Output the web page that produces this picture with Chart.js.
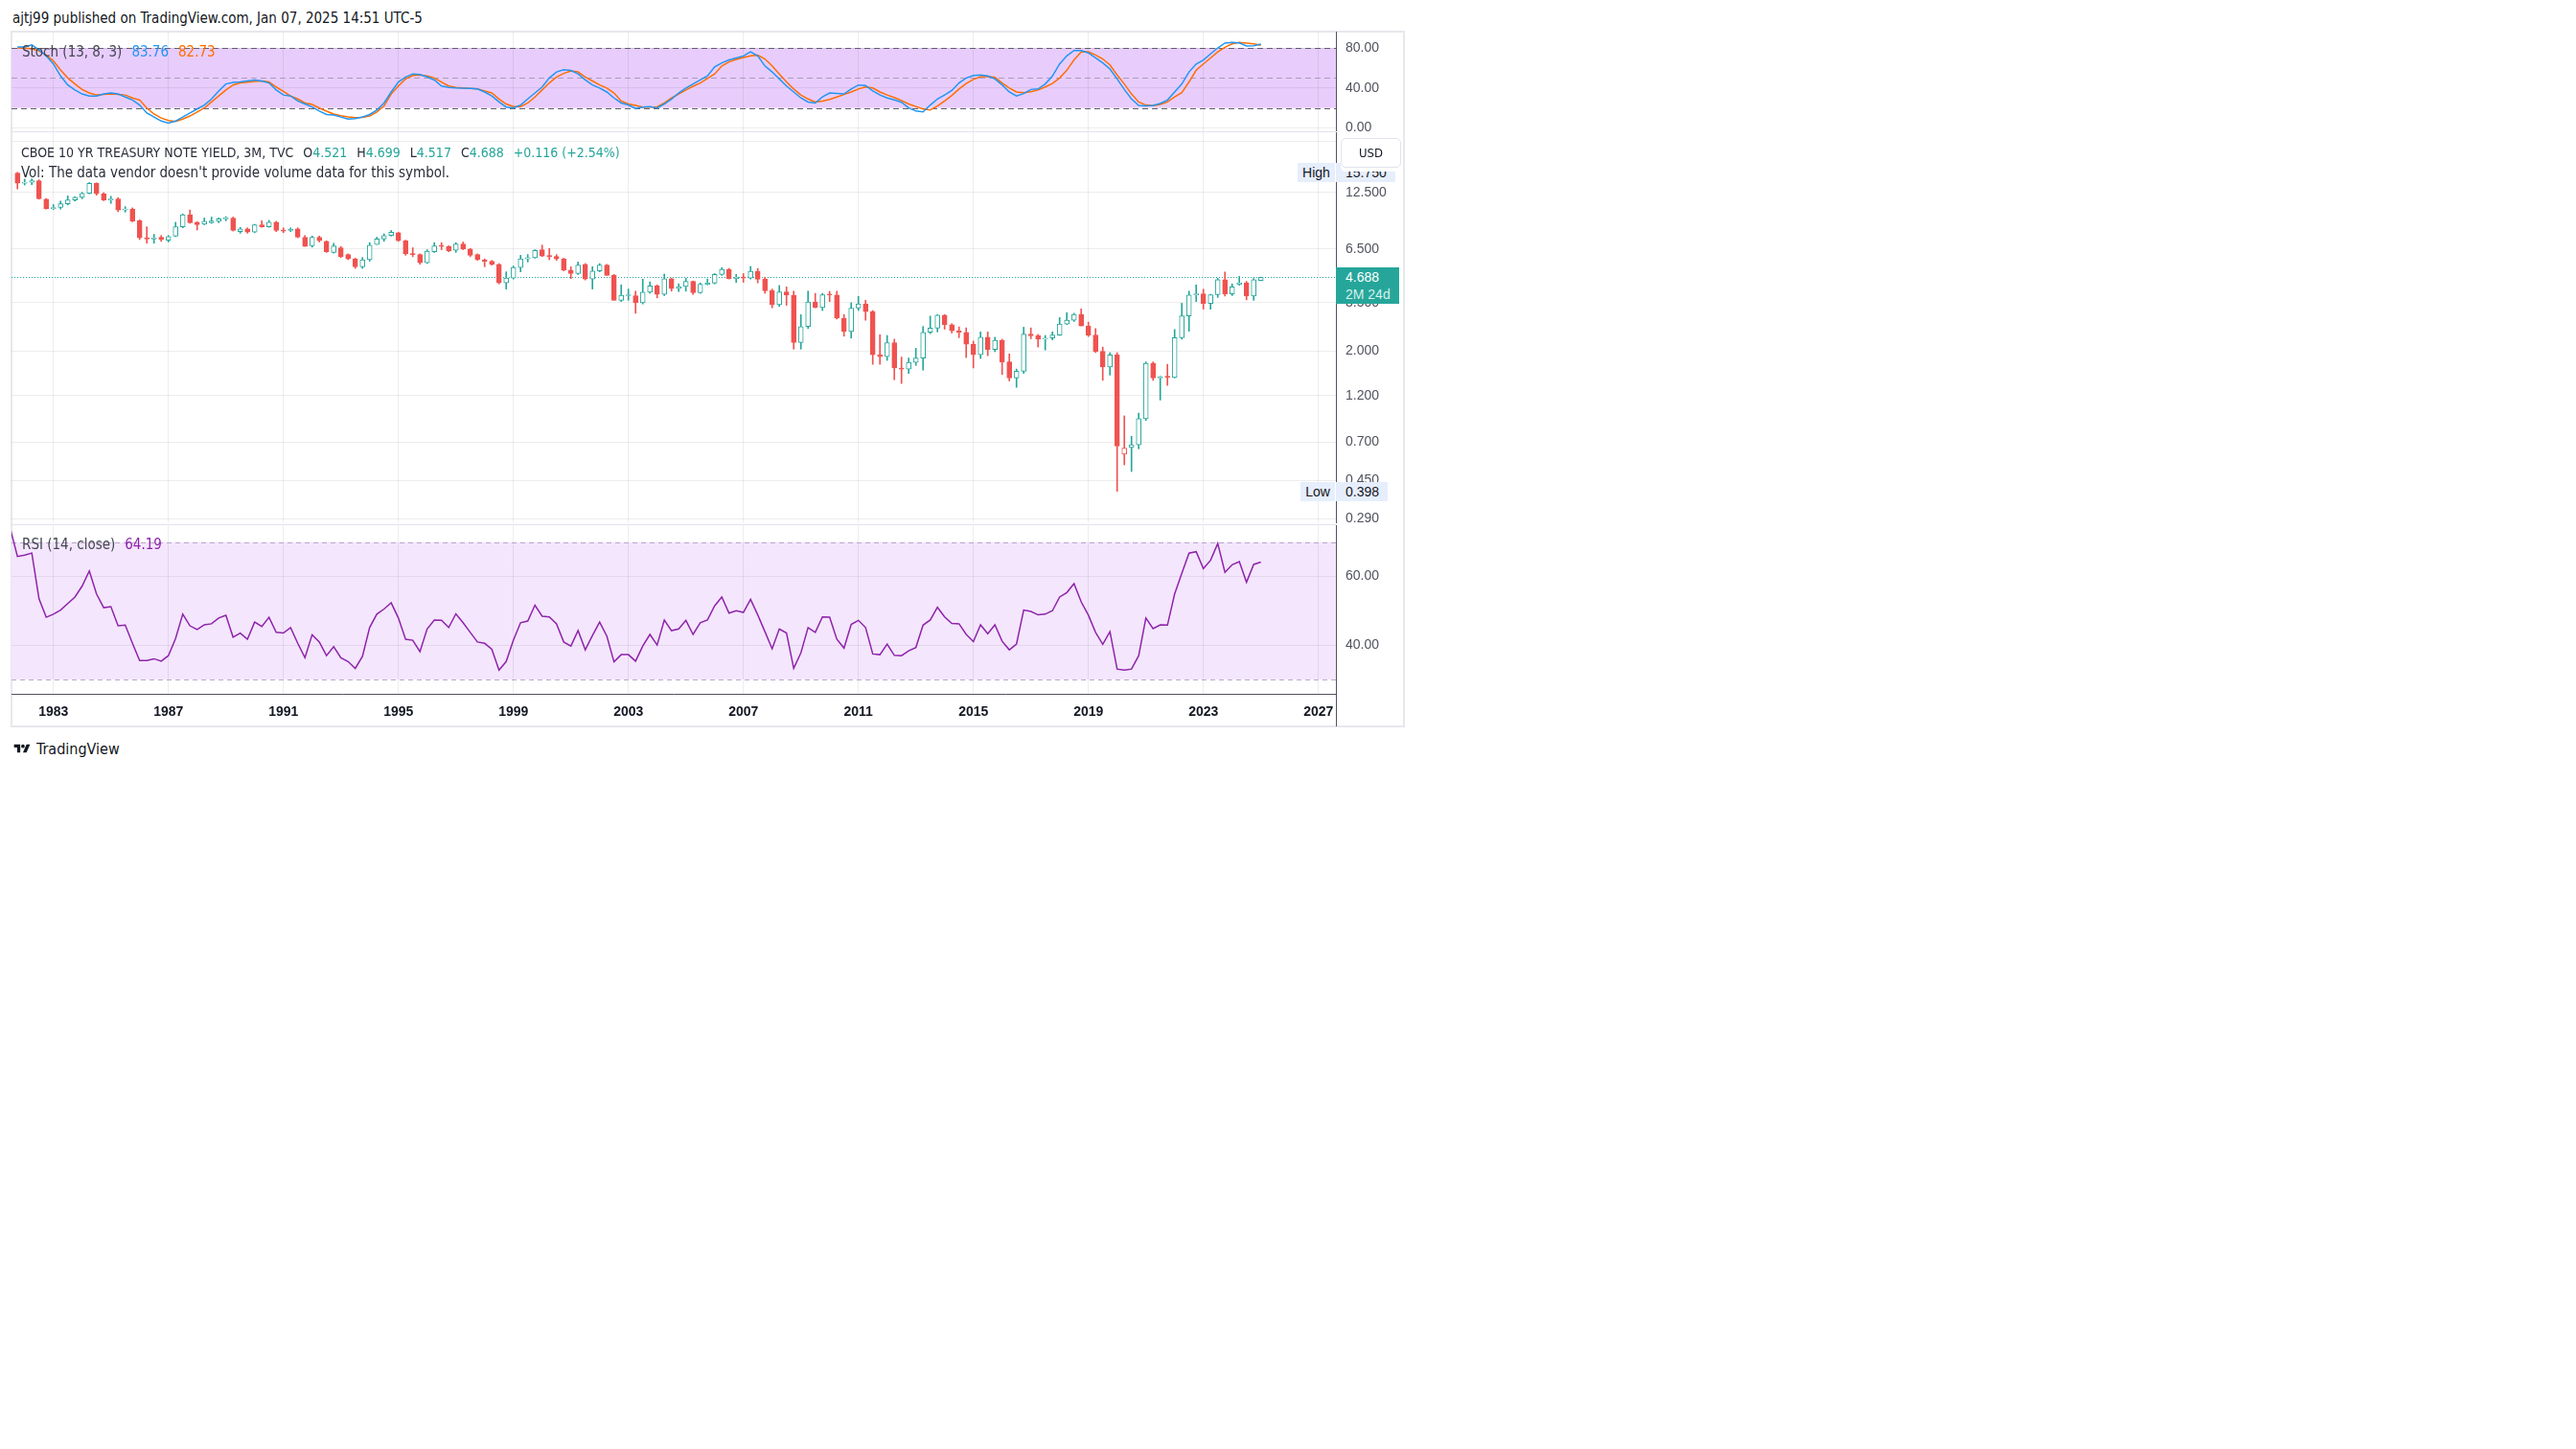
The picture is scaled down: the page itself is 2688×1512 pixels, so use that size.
<!DOCTYPE html>
<html>
<head>
<meta charset="utf-8">
<title>CBOE 10 YR Treasury Note Yield, 3M</title>
<script src="https://cdn.jsdelivr.net/npm/chart.js@4.4.1/dist/chart.umd.min.js"></script>
<style>
body { margin:0; width:2688px; height:1512px; background:#fff; position:relative; overflow:hidden;
       font-family:"DejaVu Sans Condensed", "Liberation Sans", Arial, sans-serif; font-size:15px; color:#131722; }
.abs { position:absolute; white-space:nowrap; line-height:16px; }
canvas { position:absolute; }
#frame { position:absolute; left:11px; top:32px; width:1455px; height:727px; border:2px solid #e6e8ec; box-sizing:border-box; }
.sep { position:absolute; left:12px; width:1382px; height:1px; background:#e0e3eb; }
.tag { position:absolute; height:20px; line-height:20px; background:#e6eefc; color:#131722; font-size:14px;
       font-family:"Liberation Sans", Arial, sans-serif; }
.gap { margin-left:10px; }
</style>
</head>
<body>
<div id="frame"></div>
<div class="abs" style="left:13px;top:11px;">ajtj99 published on TradingView.com, Jan 07, 2025 14:51 UTC-5</div>

<canvas id="stochCanvas" width="1453" height="104" style="left:12px;top:33px;"></canvas>
<canvas id="mainCanvas" width="1453" height="414" style="left:12px;top:138px;"></canvas>
<canvas id="rsiCanvas" width="1453" height="210" style="left:12px;top:548px;"></canvas>
<div class="sep" style="top:137px;"></div>
<div class="sep" style="top:547px;"></div>
<div style="position:absolute;left:1394px;top:724px;width:1px;height:34px;background:#50535e;"></div>

<div class="abs" id="stochLegend" style="left:23px;top:46px;color:#434651;"></div>
<div class="abs" id="mainLegend" style="left:22px;top:151px;color:#2a2e39;font-size:14px;"></div>
<div class="abs" style="left:22px;top:172px;color:#2a2e39;">Vol: The data vendor doesn't provide volume data for this symbol.</div>
<div class="abs" id="rsiLegend" style="left:23px;top:560px;color:#434651;"></div>

<div class="tag" id="highTag" style="left:1354px;width:39px;text-align:center;">High</div>
<div class="tag" id="highVal" style="left:1394px;width:62px;padding-left:10px;box-sizing:border-box;"></div>
<div class="tag" id="lowTag" style="left:1357px;width:36px;text-align:center;">Low</div>
<div class="tag" id="lowVal" style="left:1394px;width:54px;padding-left:10px;box-sizing:border-box;"></div>
<div id="lastBox" style="position:absolute;left:1394px;width:66px;height:38px;background:#26a69a;color:#fff;padding-left:10px;box-sizing:border-box;font-size:14px;line-height:18px;padding-top:1px;font-family:'Liberation Sans', Arial, sans-serif;"></div>
<div style="position:absolute;left:1399px;top:144px;width:63px;height:31px;background:#fff;border:1px solid #e0e3eb;border-radius:5px;box-sizing:border-box;text-align:center;line-height:29px;font-size:13px;color:#131722;box-shadow:0 4px 0 #fff;">USD</div>

<div class="abs" style="left:12px;top:774px;font-size:16px;">
  <svg width="22" height="13" viewBox="0 0 36 28" style="vertical-align:-1px;margin-right:4px"><path d="M14 22H7V11H0V4h14v18z" fill="#131722"/><circle cx="20" cy="8" r="4" fill="#131722"/><path d="M28 4h8l-8 18h-8l8-18z" fill="#131722"/></svg>TradingView
</div>

<script>
// one candle per quarter, first one is Q4 1981
var firstQuarter = 1981.75;

var opens = [
  15.6,
  13.9, 14.05, 14.3, 11.55,
  10.35, 10.5, 10.95, 11.45,
  11.8, 12.35, 13.85, 12.3,
  11.45, 11.6, 10.2, 10.3,
  9.0, 7.4, 7.3, 7.45,
  7.2, 7.55, 8.4, 9.65,
  8.85, 8.65, 8.8, 8.95,
  9.2, 9.3, 7.95, 8.2,
  7.9, 8.6, 8.4, 8.85,
  8.1, 8.05, 8.2, 7.45,
  6.75, 7.45, 7.1, 6.25,
  6.6, 6.1, 5.8, 5.3,
  5.75, 6.85, 7.3, 7.6,
  7.85, 7.15, 6.15, 6.1,
  5.55, 6.3, 6.75, 6.7,
  6.4, 6.9, 6.5, 6.1,
  5.75, 5.65, 5.45, 4.4,
  4.65, 5.25, 5.8, 5.88,
  6.45, 6.0, 5.97, 5.8,
  5.1, 4.9, 5.45, 4.6,
  5.05, 5.4, 4.8, 3.6,
  3.8, 3.8, 3.5, 3.95,
  4.25, 3.85, 4.62, 4.12,
  4.22, 4.48, 3.93, 4.33,
  4.39, 4.85, 5.14, 4.63,
  4.7, 4.65, 5.03, 4.59,
  4.02, 3.42, 3.97, 3.82,
  2.21, 2.66, 3.53, 3.31,
  3.84, 3.83, 2.93, 2.51,
  3.29, 3.45, 3.16, 1.92,
  1.88, 2.21, 1.65, 1.63,
  1.76, 1.85, 2.49, 2.61,
  3.03, 2.72, 2.53, 2.49,
  2.17, 1.92, 2.35, 2.04,
  2.27, 1.77, 1.47, 1.59,
  2.44, 2.39, 2.30, 2.33,
  2.41, 2.74, 2.86, 3.06,
  2.68, 2.41, 2.00, 1.67,
  1.92, 0.61, 0.66, 0.68,
  0.92, 1.74, 1.47, 1.5,
  1.48, 2.34, 3.01, 3.83,
  3.88, 3.47, 3.84, 4.57,
  3.88, 4.33, 4.40, 3.78,
  4.521
];
var highs = [
  15.75,
  14.55, 14.6, 14.45, 11.65,
  10.85, 11.3, 12.0, 11.9,
  12.5, 14.0, 13.95, 12.45,
  11.95, 11.75, 10.6, 10.45,
  9.1, 8.4, 7.7, 7.6,
  7.6, 8.85, 9.75, 10.2,
  8.9, 9.3, 9.4, 9.3,
  9.45, 9.4, 8.35, 8.3,
  8.65, 9.0, 9.05, 8.95,
  8.3, 8.3, 8.3, 7.6,
  7.55, 7.55, 7.15, 6.95,
  6.7, 6.15, 5.85, 5.9,
  7.0, 7.45, 7.75, 8.05,
  7.9, 7.2, 6.6, 6.15,
  6.45, 7.0, 7.0, 6.75,
  7.0, 7.05, 6.55, 6.15,
  5.8, 5.7, 5.5, 5.0,
  5.35, 6.05, 6.1, 6.45,
  6.8, 6.55, 6.1, 5.85,
  5.3, 5.6, 5.5, 5.3,
  5.5, 5.45, 4.85, 4.3,
  4.1, 4.0, 4.6, 4.45,
  4.3, 4.87, 4.65, 4.35,
  4.64, 4.5, 4.4, 4.6,
  4.9, 5.25, 5.2, 4.85,
  4.9, 5.32, 5.2, 4.7,
  4.1, 4.27, 4.2, 4.0,
  3.05, 4.0, 3.9, 3.9,
  3.99, 4.0, 3.05, 3.5,
  3.77, 3.6, 3.2, 2.42,
  2.4, 2.3, 1.87, 1.85,
  2.07, 2.66, 3.0, 3.05,
  3.05, 2.75, 2.65, 2.62,
  2.25, 2.5, 2.5, 2.35,
  2.3, 1.94, 1.63, 2.64,
  2.62, 2.43, 2.4, 2.5,
  2.95, 3.12, 3.1, 3.26,
  2.8, 2.6, 2.1, 1.97,
  1.97, 0.95, 0.75, 0.98,
  1.77, 1.77, 1.5, 1.72,
  2.57, 3.48, 4.0, 4.3,
  4.09, 3.86, 4.64, 4.99,
  4.35, 4.74, 4.48, 4.63,
  4.699
];
var lows = [
  13.0,
  13.6, 13.65, 11.55, 10.3,
  10.25, 10.3, 10.8, 11.3,
  11.6, 12.3, 12.1, 11.35,
  11.0, 10.0, 9.95, 8.9,
  7.25, 6.95, 6.95, 7.1,
  7.05, 7.5, 8.3, 8.75,
  8.1, 8.6, 8.75, 8.8,
  9.0, 8.0, 7.8, 7.8,
  7.85, 8.35, 8.35, 7.95,
  7.85, 7.95, 7.4, 6.7,
  6.65, 7.05, 6.25, 6.2,
  5.9, 5.75, 5.2, 5.2,
  5.65, 6.85, 7.1, 7.55,
  7.1, 6.05, 5.95, 5.45,
  5.5, 6.25, 6.45, 6.3,
  6.25, 6.45, 5.95, 5.7,
  5.3, 5.4, 4.35, 4.1,
  4.6, 5.0, 5.6, 5.85,
  5.95, 5.75, 5.7, 5.05,
  4.62, 4.85, 4.55, 4.1,
  5.0, 4.8, 3.6, 3.55,
  3.6, 3.1, 3.45, 3.9,
  3.7, 3.8, 4.0, 3.98,
  4.0, 3.85, 3.9, 4.3,
  4.35, 4.8, 4.6, 4.42,
  4.43, 4.6, 4.4, 3.9,
  3.3, 3.35, 3.4, 2.05,
  2.05, 2.6, 3.3, 3.2,
  3.55, 2.9, 2.38, 2.33,
  3.2, 2.86, 1.72, 1.72,
  1.8, 1.44, 1.38, 1.55,
  1.7, 1.61, 2.45, 2.5,
  2.58, 2.47, 2.34, 1.86,
  1.65, 1.84, 1.9, 1.99,
  1.53, 1.42, 1.32, 1.55,
  2.31, 2.1, 2.03, 2.28,
  2.4, 2.72, 2.82, 2.68,
  2.37, 1.97, 1.43, 1.52,
  0.398, 0.54, 0.50, 0.65,
  0.9, 1.43, 1.14, 1.35,
  1.47, 2.3, 2.52, 3.55,
  3.25, 3.25, 3.72, 3.78,
  3.8, 4.28, 3.62, 3.6,
  4.517
];
var closes = [
  13.9,
  14.05, 14.3, 11.6, 10.35,
  10.5, 10.95, 11.45, 11.8,
  12.35, 13.85, 12.3, 11.45,
  11.55, 10.2, 10.3, 8.95,
  7.4, 7.3, 7.4, 7.25,
  7.5, 8.4, 9.65, 8.8,
  8.6, 8.95, 8.98, 9.2,
  9.27, 8.05, 8.2, 7.9,
  8.6, 8.4, 8.85, 8.05,
  8.0, 8.15, 7.45, 6.7,
  7.45, 7.15, 6.3, 6.75,
  5.95, 5.8, 5.3, 5.75,
  6.8, 7.3, 7.6, 7.9,
  7.15, 6.15, 6.1, 5.55,
  6.35, 6.75, 6.7, 6.35,
  6.9, 6.5, 6.05, 5.75,
  5.65, 5.45, 4.4, 4.65,
  5.25, 5.8, 5.88, 6.4,
  6.0, 5.97, 5.8, 5.1,
  4.9, 5.4, 4.6, 5.05,
  5.4, 4.8, 3.6, 3.82,
  3.83, 3.5, 3.95, 4.25,
  3.85, 4.62, 4.12, 4.22,
  4.48, 3.93, 4.33, 4.39,
  4.85, 5.14, 4.63, 4.7,
  4.65, 5.03, 4.59, 4.02,
  3.42, 3.97, 3.82, 2.21,
  2.66, 3.53, 3.31, 3.84,
  3.83, 2.93, 2.51, 3.29,
  3.45, 3.16, 1.92, 1.88,
  2.21, 1.65, 1.63, 1.76,
  1.85, 2.49, 2.61, 3.03,
  2.72, 2.53, 2.49, 2.17,
  1.92, 2.35, 2.04, 2.27,
  1.77, 1.47, 1.59, 2.44,
  2.39, 2.30, 2.33, 2.41,
  2.74, 2.86, 3.06, 2.68,
  2.41, 2.00, 1.67, 1.92,
  0.67, 0.655, 0.68, 0.92,
  1.74, 1.47, 1.49, 1.48,
  2.34, 3.01, 3.83, 3.88,
  3.47, 3.84, 4.57, 3.88,
  4.20, 4.40, 3.78, 4.572,
  4.688
];

// Stoch (13, 8, 3): %K blue, %D orange, same quarters as the candles
var stochK = [
  81, 81, 83, 78, 72,
  64, 52, 43, 38, 34, 32, 32, 34, 35, 34,
  31, 28, 23, 15, 11, 7, 5, 7, 11, 15,
  19, 23, 29, 37, 44, 45.5, 46, 47, 48, 47,
  45, 38, 33, 32, 27, 24, 21, 17, 13.5, 13,
  11, 9, 9.5, 11, 13.5, 18, 25, 36, 46, 51,
  54, 53.5, 51, 48, 42, 40.5, 40, 39.8, 39.5, 39,
  36, 32, 26, 21, 20, 23, 29, 35, 41, 50,
  56, 58.3, 57.5, 54, 48, 43, 40, 36, 30, 25,
  23, 19.5, 21, 21.5, 20, 24, 29, 35, 40, 44,
  48, 52, 61, 65, 68, 70, 72, 76, 72, 62,
  56, 49, 42, 36, 30, 26, 25, 31, 35, 34.5,
  34, 39, 43, 42.5, 37, 33, 30, 28, 25.7, 20,
  17, 16.2, 23, 29, 33, 37.5, 45, 50, 52.5, 53,
  52, 49, 43, 36, 32, 34.4, 38.5, 39, 44, 52,
  64, 72, 77.4, 77.4, 75, 70, 65, 59, 49, 38.5,
  29, 22.5, 22, 22.5, 24.5, 28, 36, 44, 56, 64,
  68, 74, 80, 84.8, 85.4, 85, 82, 82.2, 83.76
];
var stochD = [
  80, 80, 79, 77, 73,
  67, 58, 50, 44, 38.5, 35, 33, 33.5, 34, 33.5,
  33, 30, 28, 20, 14, 10, 7.5, 6.6, 9, 12,
  16, 20, 26, 32, 38, 43, 45, 45.8, 46.5, 47,
  46, 41, 36.5, 32, 29, 25, 23.5, 20, 16.8, 14,
  12.3, 11, 10.4, 10.6, 12, 16, 22, 34, 42, 49,
  52.5, 53, 52, 50, 46, 42, 40.5, 40, 39.5, 39,
  37, 35, 29, 24, 21.5, 21.5, 25, 31, 38, 45,
  51, 54.5, 57, 56, 51, 47, 43, 40, 35, 27,
  24, 22.5, 21, 21, 21.2, 25, 30, 34, 38, 41.7,
  45, 49.5, 54, 62, 66, 68.5, 70.5, 72, 72.7, 69,
  62, 54, 46, 39, 33, 29, 26, 27, 28.5, 31,
  33.5, 36, 39, 41, 40, 36, 33, 30.5, 27.5, 24,
  21.5, 19, 18, 22, 27, 32.5, 39, 44.5, 48.5, 51.3,
  51.5, 50.5, 45, 40, 36, 35.3, 36.3, 38, 41, 44.5,
  50, 57.7, 68, 76, 76.2, 73, 69, 63, 53, 44,
  34, 26, 23, 22.3, 23.5, 26, 31, 35.3, 46, 57.7,
  64, 70, 76, 80.6, 84, 85.4, 84.8, 84, 82.73
];

// RSI (14, close), starts one quarter earlier (enters from the left edge)
var rsiStart = 1981.5;
var rsi = [
  74,
  65.8, 66.2, 66.8, 53.5, 48.1,
  49.0, 50.2, 52.1, 54.0, 57.2, 61.6, 54.9, 50.9, 51.2, 45.6,
  45.8, 40.5, 35.5, 35.5, 36.0, 35.3, 36.9, 41.9, 49.0, 45.6,
  44.5, 45.9, 46.2, 47.9, 48.7, 42.3, 43.5, 41.7, 46.7, 45.4,
  48.1, 43.7, 43.5, 45.1, 40.5, 36.3, 43.0, 40.9, 36.9, 39.5,
  36.3, 35.2, 33.2, 36.7, 45.1, 49.0, 50.5, 52.3, 47.9, 41.7,
  41.4, 38.1, 44.7, 47.3, 47.2, 45.1, 49.1, 46.5, 43.7, 40.9,
  40.5, 38.8, 32.7, 35.2, 41.4, 46.5, 47.0, 51.6, 48.4, 48.2,
  46.2, 40.9, 39.7, 44.2, 38.6, 42.8, 46.7, 42.6, 35.1, 37.2,
  37.2, 35.3, 39.7, 43.1, 40.0, 47.3, 44.2, 44.7, 47.2, 43.1,
  46.5, 47.3, 51.4, 54.0, 49.3, 50.0, 49.5, 53.3, 48.8, 43.9,
  38.9, 44.7, 43.5, 33.2, 37.7, 45.1, 43.7, 48.2, 48.1, 41.7,
  39.1, 46.0, 47.2, 45.1, 37.4, 37.2, 40.3, 37.0, 36.9, 38.3,
  39.3, 45.8, 47.3, 51.0, 48.2, 46.3, 46.2, 43.1, 41.0, 45.9,
  43.3, 45.9, 41.1, 38.6, 40.3, 50.2, 49.8, 48.8, 49.0, 50.0,
  54.0, 55.3, 57.9, 52.6, 48.7, 43.7, 40.2, 43.9, 33.0, 32.7,
  33.0, 36.9, 47.9, 44.8, 45.9, 45.8, 54.9, 60.9, 66.8, 67.2,
  62.3, 64.7, 69.6, 61.2, 63.4, 64.3, 58.3, 63.5, 64.19
];

var yearTicks = [1983, 1987, 1991, 1995, 1999, 2003, 2007, 2011, 2015, 2019, 2023, 2027];
var priceTicks = [22.5, 12.5, 6.5, 3.5, 2.0, 1.2, 0.7, 0.45, 0.29];
var priceTickLabels = ['', '12.500', '6.500', '3.500', '2.000', '1.200', '0.700', '0.450', '0.290'];
var stochTicks = [0, 40, 80];
var rsiTicks = [40, 60];

var GREEN = '#26a69a', RED = '#ef5350';
var GRID = 'rgba(42,46,57,0.085)';
var AXIS = '#50535e';

Chart.defaults.font.family = '"Liberation Sans", Arial, sans-serif';
Chart.defaults.font.size = 14;
Chart.defaults.animation = false;

function noPad(s) {
    s.paddingTop = 0; s.paddingBottom = 0; s.paddingLeft = 0; s.paddingRight = 0;
}

function xAxis(withLabels) {
    return {
        type: 'linear', min: 1981.543, max: 2027.61, offset: false,
        grid: { color: GRID, drawTicks: false, offset: false },
        border: { display: withLabels, color: AXIS },
        ticks: { display: withLabels, autoSkip: false, maxRotation: 0, padding: 11, color: '#131722',
                 font: { weight: 'bold', size: 14 }, callback: function(v) { return String(v); } },
        afterBuildTicks: function(s) { s.ticks = yearTicks.map(function(v) { return { value: v }; }); },
        afterFit: function(s) { s.height = withLabels ? 34 : 0; noPad(s); }
    };
}

function yAxis(type, min, max, ticks, label) {
    return {
        type: type, position: 'right', min: min, max: max, bounds: 'data',
        grid: { color: GRID, drawTicks: false, offset: false },
        border: { color: AXIS },
        ticks: { autoSkip: false, padding: 10, color: AXIS, crossAlign: 'near', callback: label },
        afterBuildTicks: function(s) { s.ticks = ticks.map(function(v) { return { value: v }; }); },
        afterFit: function(s) { s.width = 71; noPad(s); }
    };
}

// shaded band + dashed guide lines of an oscillator pane
function bandPlugin(lo, hi, fill, lines) {
    return {
        id: 'band',
        beforeDraw: function(chart) {
            var a = chart.chartArea, y = chart.scales.y, ctx = chart.ctx;
            var top = y.getPixelForValue(hi), bot = y.getPixelForValue(lo);
            ctx.save();
            ctx.fillStyle = fill;
            ctx.fillRect(a.left, top, a.right - a.left, bot - top);
            ctx.restore();
        },
        beforeDatasetsDraw: function(chart) {
            var a = chart.chartArea, y = chart.scales.y, ctx = chart.ctx;
            ctx.save();
            ctx.lineWidth = 1;
            lines.forEach(function(l) {
                var py = Math.round(y.getPixelForValue(l.value)) + 0.5;
                ctx.strokeStyle = l.color;
                ctx.setLineDash(l.dash);
                ctx.beginPath(); ctx.moveTo(a.left, py); ctx.lineTo(a.right, py); ctx.stroke();
            });
            ctx.restore();
        }
    };
}

var lastClose = closes[closes.length - 1];
var lastPlugin = {
    id: 'lastPrice',
    beforeDatasetsDraw: function(chart) {
        var a = chart.chartArea, ctx = chart.ctx;
        var py = Math.round(chart.scales.y.getPixelForValue(lastClose)) + 0.5;
        ctx.save();
        ctx.strokeStyle = GREEN; ctx.lineWidth = 1; ctx.setLineDash([1, 2]);
        ctx.beginPath(); ctx.moveTo(a.left, py); ctx.lineTo(a.right, py); ctx.stroke();
        ctx.restore();
    }
};

function series(values, start) {
    return values.map(function(v, i) { return { x: start + i * 0.25, y: v }; });
}

var bodyData = [], wickData = [], bodyFill = [], candleColor = [];
for (var i = 0; i < closes.length; i++) {
    var x = firstQuarter + i * 0.25;
    var prev = i > 0 ? closes[i - 1] : opens[i];
    var col = closes[i] >= prev ? GREEN : RED;
    candleColor.push(col);
    bodyFill.push(closes[i] > opens[i] ? '#ffffff' : col);
    bodyData.push({ x: x, y: [opens[i], closes[i]] });
    wickData.push({ x: x, y: [lows[i], highs[i]] });
}

var baseOpts = function(bottom) {
    return { responsive: false, devicePixelRatio: 1, animation: false, events: [],
             layout: { autoPadding: false, padding: { top: 0, left: 0, right: 0, bottom: bottom || 0 } },
             plugins: { legend: { display: false }, tooltip: { enabled: false } } };
};

var so = baseOpts(0);
so.scales = { x: xAxis(false), y: yAxis('linear', -3.25, 96.27, stochTicks, function(v) { return v.toFixed(2); }) };
new Chart(document.getElementById('stochCanvas'), {
    type: 'line',
    data: { datasets: [
        { data: series(stochK, firstQuarter), borderColor: '#2196f3', borderWidth: 1.5, pointRadius: 0, tension: 0 },
        { data: series(stochD, firstQuarter), borderColor: '#ff6d00', borderWidth: 1.5, pointRadius: 0, tension: 0 }
    ]},
    options: so,
    plugins: [bandPlugin(20, 80, '#e8cdfc', [
        { value: 80, color: '#5d606b', dash: [6, 4] },
        { value: 50, color: '#a99bbd', dash: [6, 4] },
        { value: 20, color: '#5d606b', dash: [6, 4] }
    ])]
});

var mo = baseOpts(7);
mo.scales = { x: xAxis(false), y: yAxis('logarithmic', 0.2784, 24.99, priceTicks, function(v, idx) { return priceTickLabels[idx]; }) };
var mainChart = new Chart(document.getElementById('mainCanvas'), {
    type: 'bar',
    data: { datasets: [
        { data: bodyData, backgroundColor: bodyFill, borderColor: candleColor, borderWidth: 1,
          borderSkipped: false, barThickness: 5, minBarLength: 1, grouped: false, order: 0 },
        { data: wickData, backgroundColor: candleColor, borderWidth: 0, barThickness: 1, grouped: false, order: 1 }
    ]},
    options: mo,
    plugins: [lastPlugin]
});

var ro = baseOpts(0);
ro.scales = { x: xAxis(true), y: yAxis('linear', 25.78, 74.94, rsiTicks, function(v) { return v.toFixed(2); }) };
new Chart(document.getElementById('rsiCanvas'), {
    type: 'line',
    data: { datasets: [
        { data: series(rsi, rsiStart), borderColor: '#8e24aa', borderWidth: 1.5, pointRadius: 0, tension: 0 }
    ]},
    options: ro,
    plugins: [bandPlugin(30, 70, '#f4e6fd', [
        { value: 70, color: '#b8aac8', dash: [5, 4] },
        { value: 30, color: '#b8aac8', dash: [5, 4] }
    ])]
});

// legends
var n = closes.length - 1;
var chg = closes[n] - closes[n - 1];
function t(txt, color, gap) {
    return '<span' + (gap ? ' class="gap"' : '') + ' style="color:' + color + '">' + txt + '</span>';
}
document.getElementById('mainLegend').innerHTML =
    t('CBOE 10 YR TREASURY NOTE YIELD, 3M, TVC', '#2a2e39') +
    t('O', '#2a2e39', 1) + t(opens[n].toFixed(3), GREEN) +
    t('H', '#2a2e39', 1) + t(highs[n].toFixed(3), GREEN) +
    t('L', '#2a2e39', 1) + t(lows[n].toFixed(3), GREEN) +
    t('C', '#2a2e39', 1) + t(closes[n].toFixed(3), GREEN) +
    t('+' + chg.toFixed(3) + ' (+' + (chg / closes[n - 1] * 100).toFixed(2) + '%)', GREEN, 1);
document.getElementById('stochLegend').innerHTML =
    t('Stoch (13, 8, 3)', '#434651') + t(stochK[stochK.length - 1].toFixed(2), '#2196f3', 1) +
    t(stochD[stochD.length - 1].toFixed(2), '#ff6d00', 1);
document.getElementById('rsiLegend').innerHTML =
    t('RSI (14, close)', '#434651') + t(rsi[rsi.length - 1].toFixed(2), '#8e24aa', 1);

// price-scale tags placed through the price scale
var ys = mainChart.scales.y, mainTop = 138;
var hi = Math.max.apply(null, highs), lo = Math.min.apply(null, lows);
var hiY = ys.getPixelForValue(hi) + mainTop, loY = ys.getPixelForValue(lo) + mainTop, lastY = ys.getPixelForValue(lastClose) + mainTop;
['highTag', 'highVal'].forEach(function(id) { document.getElementById(id).style.top = (hiY - 10) + 'px'; });
['lowTag', 'lowVal'].forEach(function(id) { document.getElementById(id).style.top = (loY - 10) + 'px'; });
document.getElementById('highVal').textContent = hi.toFixed(3);
document.getElementById('lowVal').textContent = lo.toFixed(3);
var box = document.getElementById('lastBox');
box.style.top = (lastY - 10) + 'px';
box.innerHTML = lastClose.toFixed(3) + '<br><span style="color:#d7f0ed">2M 24d</span>';
</script>
</body>
</html>
